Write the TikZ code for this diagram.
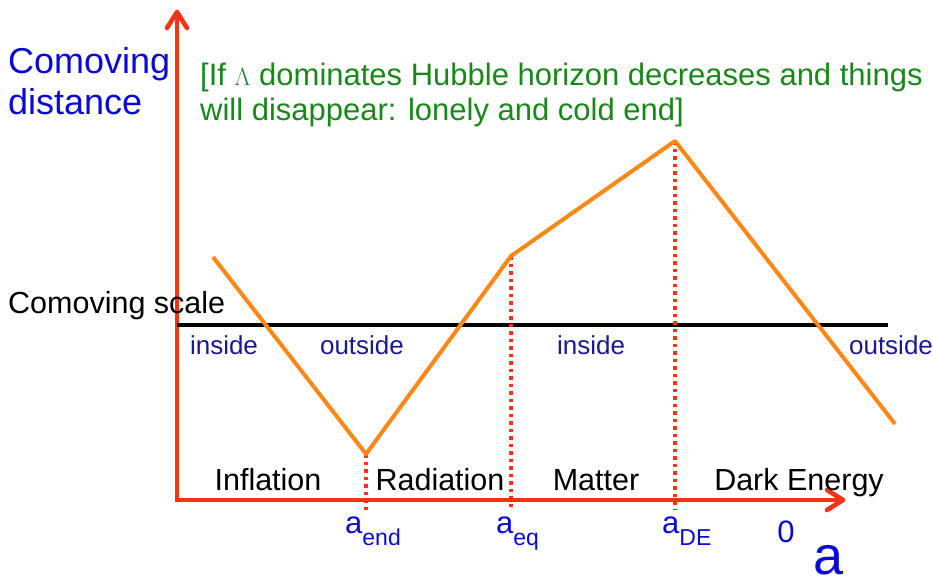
\documentclass[tikz,border=0pt]{standalone}
\usepackage{fontspec}
\setmainfont{Liberation Sans}
\usetikzlibrary{arrows.meta}
\definecolor{axisr}{RGB}{250,50,20}
\definecolor{hubo}{RGB}{255,135,20}
\definecolor{labb}{RGB}{10,10,215}
\definecolor{regb}{RGB}{25,25,145}
\definecolor{noteg}{RGB}{25,135,25}
\newcommand{\FS}[1]{\fontsize{#1}{#1}\selectfont}
\newcommand{\alab}[1]{a\raisebox{-12pt}{\FS{23}#1}}

\begin{document}
\begin{tikzpicture}[x=1pt, y=-1pt,
    axis/.style={draw=axisr, line width=4.2pt},
    chev/.style={draw=axisr, line width=4.6pt, line cap=round, line join=round},
    scale line/.style={draw=black, line width=3.8pt},
    horizon/.style={draw=hubo, line width=4pt, line join=round},
    drop/.style={draw=axisr, line width=3.5pt, dash pattern=on 3.5pt off 4pt},
    ylab/.style={text=labb, font=\FS{36}, align=left, inner sep=0pt, anchor=north west},
    note/.style={text=noteg, font=\FS{31}, align=left, inner sep=0pt, anchor=north west},
    side/.style={text=regb, font=\FS{26}, inner sep=0pt, anchor=base},
    era/.style={text=black, font=\FS{30.5}, inner sep=0pt, anchor=base},
    tick/.style={text=labb, font=\FS{31}, inner sep=0pt, anchor=base west},
  ]
  \useasboundingbox (0,0) rectangle (933,584);

  % --- axes and the comoving scale
  \coordinate (ytip) at (177,12);
  \coordinate (O) at (177,500);
  \coordinate (xtip) at (843,500);
  \draw[axis] (ytip) -- (O) -- (xtip);
  \draw[chev] ([shift={(-10,16)}]ytip) -- (ytip) -- ([shift={(10,16)}]ytip);
  \draw[chev] ([shift={(-16,-10)}]xtip) -- (xtip) -- ([shift={(-16,10)}]xtip);
  \coordinate (s0) at (177,325);
  \coordinate (s1) at (888,325);
  \draw[scale line] (s0) -- (s1);

  % --- comoving Hubble horizon
  \coordinate (c0) at (213,257);
  \coordinate (c1) at (366,454);
  \coordinate (c2) at (511,256);
  \coordinate (c3) at (675,141);
  \coordinate (c4) at (895,424);
  \coordinate (foot) at (0,510);
  \foreach \i in {1,2,3} { \draw[drop] (c\i) -- (c\i |- foot); }
  \draw[horizon] (c0) -- (c1) -- (c2) -- (c3) -- (c4);

  % --- labels
  \node[ylab] (yname) at (8,47) {Comoving\\[5pt]distance};
  \node[note] (lam) at (200,63) {[If $\Lambda$ dominates Hubble horizon decreases and things\\[4pt]will disappear: lonely and cold end]};
  \node[era, anchor=base west] (scl) at (8,313) {Comoving scale};

  \node[side] (in1) at (224,354) {inside};
  \node[side] (out1) at (362,354) {outside};
  \node[side] (in2) at (591,354) {inside};
  \node[side] (out2) at (891,354) {outside};

  \node[era] (inf) at (268,490) {Inflation};
  \node[era] (rad) at (440,490) {Radiation};
  \node[era] (mat) at (596,490) {Matter};
  \node[era] (de) at (799,490) {Dark Energy};

  \node[tick] (aend) at (345,533) {\alab{end}};
  \node[tick] (aeq) at (496,533) {\alab{eq}};
  \node[tick] (ade) at (662,533) {\alab{DE}};
  \node[tick, anchor=base] (zero) at (786,542) {0};
  \node[tick, font=\FS{54}, anchor=base] (xname) at (829,574) {a};

\end{tikzpicture}
\end{document}
